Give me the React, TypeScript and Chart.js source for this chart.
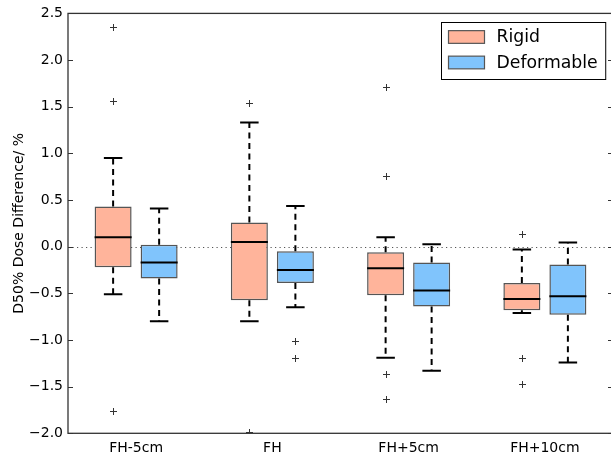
import React, { useEffect, useRef } from 'react';
import { Chart, registerables } from 'chart.js';

Chart.register(...registerables);

const categories = ['FH-5cm', 'FH', 'FH+5cm', 'FH+10cm'];
const seriesNames = ['Rigid', 'Deformable'];
const seriesColors = ['#ffb49b', '#80c4fc'];

const rigidLow = [-0.51, -0.8, -1.19, -0.71];
const rigidQ1 = [-0.22, -0.575, -0.52, -0.68];
const rigidMedian = [0.1, 0.05, -0.23, -0.56];
const rigidQ3 = [0.43, 0.26, -0.06, -0.39];
const rigidHigh = [0.95, 1.33, 0.1, -0.03];
const rigidOutliers = [[2.35, 1.56, -1.76], [1.54, -1.99], [1.71, 0.76, -1.36, -1.63], [0.14, -1.19, -1.475]];

const deformLow = [-0.8, -0.65, -1.33, -1.24];
const deformQ1 = [-0.34, -0.39, -0.64, -0.73];
const deformMedian = [-0.17, -0.25, -0.47, -0.53];
const deformQ3 = [0.02, -0.05, -0.17, -0.19];
const deformHigh = [0.41, 0.435, 0.025, 0.046];
const deformOutliers = [[], [-1.01, -1.19], [], []];

const yMin = -2.0;
const yMax = 2.5;
const yStep = 0.5;
const yTitle = 'D50% Dose Difference/ %';

const FONT = "'DejaVu Sans', 'Liberation Sans', sans-serif";

const stats = [
  { low: rigidLow, median: rigidMedian, high: rigidHigh, outliers: rigidOutliers },
  { low: deformLow, median: deformMedian, high: deformHigh, outliers: deformOutliers },
];

const boxPlugin = {
  id: 'boxExtras',
  beforeDatasetsDraw(chart: any) {
    const { ctx, chartArea, scales } = chart;
    const y0 = Math.round(scales.y.getPixelForValue(0)) + 0.5;
    ctx.save();
    ctx.strokeStyle = '#555';
    ctx.lineWidth = 1.2;
    ctx.setLineDash([1.2, 3.3]);
    ctx.beginPath();
    ctx.moveTo(chartArea.left, y0);
    ctx.lineTo(chartArea.right, y0);
    ctx.stroke();
    ctx.restore();
  },
  afterDatasetsDraw(chart: any) {
    const { ctx, chartArea, scales } = chart;
    const y = scales.y;
    ctx.save();
    ctx.beginPath();
    ctx.rect(chartArea.left, chartArea.top, chartArea.right - chartArea.left, chartArea.bottom - chartArea.top);
    ctx.clip();
    chart.data.datasets.forEach((ds: any, di: number) => {
      const meta = chart.getDatasetMeta(di);
      const st = stats[di];
      meta.data.forEach((el: any, i: number) => {
        const x = el.x;
        const half = el.width / 2;
        const q1 = ds.data[i][0];
        const q3 = ds.data[i][1];
        ctx.strokeStyle = '#000';
        ctx.lineWidth = 2;
        ctx.setLineDash([6, 4.5]);
        ctx.beginPath();
        ctx.moveTo(x, y.getPixelForValue(q3));
        ctx.lineTo(x, y.getPixelForValue(st.high[i]));
        ctx.moveTo(x, y.getPixelForValue(q1));
        ctx.lineTo(x, y.getPixelForValue(st.low[i]));
        ctx.stroke();
        ctx.setLineDash([]);
        ctx.beginPath();
        const hy = y.getPixelForValue(st.high[i]);
        const ly = y.getPixelForValue(st.low[i]);
        ctx.moveTo(x - half / 2, hy);
        ctx.lineTo(x + half / 2, hy);
        ctx.moveTo(x - half / 2, ly);
        ctx.lineTo(x + half / 2, ly);
        ctx.stroke();
        const my = y.getPixelForValue(st.median[i]);
        ctx.beginPath();
        ctx.moveTo(x - half, my);
        ctx.lineTo(x + half, my);
        ctx.stroke();
        ctx.strokeStyle = '#333';
        ctx.lineWidth = 1;
        st.outliers[i].forEach((v: number) => {
          const py = Math.round(y.getPixelForValue(v)) + 0.5;
          const px = Math.round(x) + 0.5;
          ctx.beginPath();
          ctx.moveTo(px - 3.5, py);
          ctx.lineTo(px + 3.5, py);
          ctx.moveTo(px, py - 3.5);
          ctx.lineTo(px, py + 3.5);
          ctx.stroke();
        });
      });
    });
    ctx.restore();
  },
  afterDraw(chart: any) {
    const { ctx, chartArea, scales } = chart;
    const y = scales.y;
    ctx.save();
    ctx.strokeStyle = '#333';
    ctx.lineWidth = 1.3;
    ctx.strokeRect(chartArea.left, chartArea.top, chartArea.right - chartArea.left, chartArea.bottom - chartArea.top);
    ctx.lineWidth = 1;
    y.ticks.forEach((t: any) => {
      const py = Math.round(y.getPixelForValue(t.value)) + 0.5;
      ctx.beginPath();
      ctx.moveTo(chartArea.left, py);
      ctx.lineTo(chartArea.left + 5, py);
      ctx.moveTo(chartArea.right, py);
      ctx.lineTo(chartArea.right - 5, py);
      ctx.stroke();
    });
    const fontSize = 17.3;
    ctx.font = `${fontSize}px ${FONT}`;
    const textW = Math.max(...seriesNames.map((n) => ctx.measureText(n).width));
    const swW = 36;
    const swH = 12.7;
    const pad = 7;
    const gap = 12;
    const rowH = 25.5;
    const boxW = pad + swW + gap + textW + 8;
    const boxH = rowH * seriesNames.length + 6;
    const bx = Math.round(chartArea.right - 8 - boxW) + 0.5;
    const by = Math.round(chartArea.top + 8.5) + 0.5;
    ctx.fillStyle = '#fff';
    ctx.fillRect(bx, by, boxW, boxH);
    ctx.strokeStyle = '#000';
    ctx.lineWidth = 1;
    ctx.strokeRect(bx, by, boxW, boxH);
    seriesNames.forEach((n, i) => {
      const cy = by + 14.5 + i * rowH;
      ctx.fillStyle = seriesColors[i];
      ctx.fillRect(bx + pad, cy - swH / 2, swW, swH);
      ctx.strokeStyle = '#555';
      ctx.lineWidth = 1.2;
      ctx.strokeRect(bx + pad, cy - swH / 2, swW, swH);
      ctx.fillStyle = '#000';
      ctx.textBaseline = 'middle';
      ctx.textAlign = 'left';
      ctx.fillText(n, bx + pad + swW + gap, cy + 1);
    });
    ctx.restore();
  },
};

export default function App() {
  const ref = useRef<HTMLCanvasElement | null>(null);
  useEffect(() => {
    document.body.style.overflow = 'hidden';
    const canvas = ref.current;
    if (!canvas) return;
    const chart = new Chart(canvas, {
      type: 'bar',
      data: {
        labels: categories,
        datasets: [
          {
            label: seriesNames[0],
            data: rigidQ1.map((q, i) => [q, rigidQ3[i]]),
            backgroundColor: seriesColors[0],
            borderColor: '#555',
            borderWidth: 1.5,
            borderSkipped: false,
            categoryPercentage: 0.6755,
            barPercentage: 0.804,
          },
          {
            label: seriesNames[1],
            data: deformQ1.map((q, i) => [q, deformQ3[i]]),
            backgroundColor: seriesColors[1],
            borderColor: '#555',
            borderWidth: 1.5,
            borderSkipped: false,
            categoryPercentage: 0.6755,
            barPercentage: 0.804,
          },
        ] as any,
      },
      options: {
        animation: false,
        responsive: false,
        devicePixelRatio: 1,
        layout: { padding: { top: 12.5, right: 3, left: 0, bottom: 0 } },
        plugins: { legend: { display: false }, tooltip: { enabled: false } },
        scales: {
          x: {
            grid: { display: false, drawTicks: false },
            border: { display: false },
            ticks: { color: '#000', font: { family: FONT, size: 14 }, padding: 7 },
            afterFit(scale: any) {
              scale.height = 24.7;
            },
          },
          y: {
            min: yMin,
            max: yMax,
            grid: { display: false, drawTicks: false },
            border: { display: false },
            ticks: {
              stepSize: yStep,
              color: '#000',
              font: { family: FONT, size: 14 },
              padding: 5,
              callback: (v: any) => Number(v).toFixed(1).replace('-', '\u2212'),
            },
            title: {
              display: true,
              text: yTitle,
              color: '#000',
              font: { family: FONT, size: 14 },
              padding: { top: 11, bottom: 0 },
            },
            afterFit(scale: any) {
              scale.width = 68;
            },
          },
        },
      },
      plugins: [boxPlugin],
    });
    return () => chart.destroy();
  }, []);
  return (
    <div style={{ position: 'fixed', left: 0, top: 0, width: 616, height: 458 }}>
      <canvas ref={ref} width={616} height={458} />
    </div>
  );
}
